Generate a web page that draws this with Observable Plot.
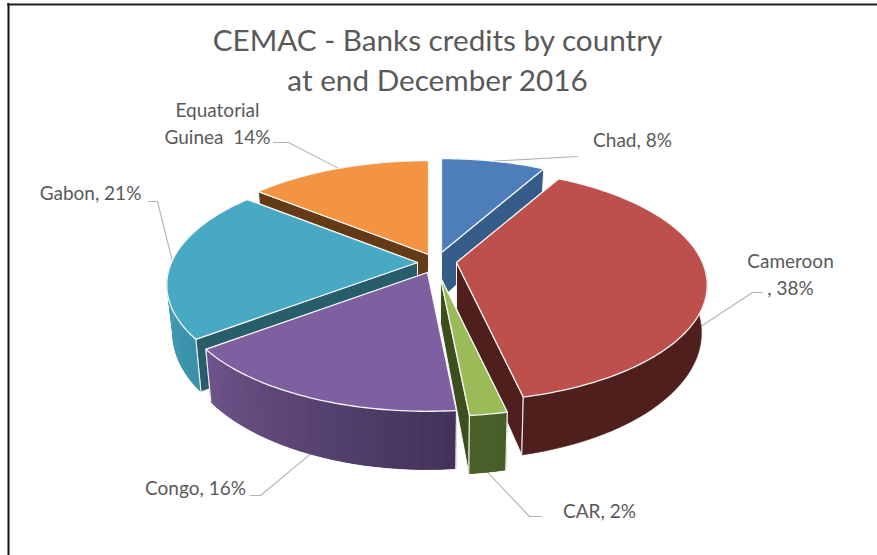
<!DOCTYPE html>
<html>
<head>
<meta charset="utf-8">
<script src="https://cdn.jsdelivr.net/npm/d3@7"></script>
<script src="https://cdn.jsdelivr.net/npm/@observablehq/plot@0.6"></script>
<style>
  html, body { margin: 0; padding: 0; background: #fff; }
  svg { display: block; }
</style>
</head>
<body>
<div id="chart"></div>
<script>
// Banks credits by country, share of the CEMAC total, clockwise from 12 o'clock
const countries = ["Chad", "Cameroon", "CAR", "Congo", "Gabon", "Equatorial Guinea"];
const shares = [8, 38, 2, 16, 21, 14];

const titleLines = ["CEMAC - Banks credits by country", "at end December 2016"];
const sliceLabels = ["Chad, 8%", "Cameroon\n, 38%", "CAR, 2%", "Congo, 16%", "Gabon, 21%", "Equatorial\nGuinea  14%"];

// Colours of each slice: top face, cut faces, outer wall at its first and last angle
const topColors = ["#4d7eba", "#bd4f4c", "#9bbb59", "#7e60a0", "#48a9c4", "#f39443"];
const cutColors = ["#365c8a", "#4f1f1e", "#3c4f1d", "#4a3760", "#285e6c", "#653a17"];
const wallFrom = ["#365c8a", "#4f1f1e", "#485e28", "#43335a", "#3c90a9", "#653a17"];
const wallTo = ["#365c8a", "#4f1f1e", "#4a6029", "#6d5389", "#45a2bc", "#653a17"];

// Pie geometry: perspective disc of a tilted cylinder, with each slice pulled off the hub
const hub = {x: 436, y: 264};
const disc = {rx: 246, ry: 112, persp: 0.193};
const lower = {sx: 0.977, sy: 1.088, drop: 46};
const pullX = [5, 20, 4, -9, -19, -8];
const pullY = [-12, -2, 13, 8, -2, -10];

// Where the labels sit and where their leader lines bend
const labelAt = [[632, 138], [790, 272], [599, 509], [195, 486], [90, 191], [217, 121]];
const bendAt = [[[577, 156]], [[752, 292], [762, 292]], [[529, 516], [541, 516]], [[260, 495], [250, 495]], [[157, 201], [148, 201]], [[288, 142], [273, 142]]];

const total = d3.sum(shares);
const tau = 2 * Math.PI;

function project(theta) {
  const u = Math.sin(theta), v = Math.cos(theta), w = 1 + disc.persp * v;
  return [disc.rx * u / w, -disc.ry * v / w];
}

// Slice angles and the screen position of each slice's apex
let running = 0;
const slices = shares.map((share, i) => {
  const a0 = (running / total) * tau;
  running += share;
  const a1 = (running / total) * tau;
  return {i, a0, a1, mid: (a0 + a1) / 2, apex: [hub.x + pullX[i], hub.y + pullY[i]]};
});

const topPoint = (s, t) => {
  const [dx, dy] = project(t);
  return [s.apex[0] + dx, s.apex[1] + dy];
};
const bottomPoint = (s, t) => {
  const [dx, dy] = project(t);
  return [s.apex[0] + dx * lower.sx, s.apex[1] + dy * lower.sy + lower.drop];
};
const apexBottom = s => [s.apex[0], s.apex[1] + lower.drop];

const angles = (a0, a1, step = 0.02) => {
  const n = Math.max(2, Math.ceil((a1 - a0) / step));
  return d3.range(n + 1).map(k => a0 + (a1 - a0) * k / n);
};

// Flat list of polygon vertices, one series per face, in drawing order
const rows = [];
let faceId = 0;
function addFace(points, fill, stroke, strokeWidth, closed = true) {
  const id = faceId++;
  const path = closed ? [...points, points[0]] : points;
  for (const [x, y] of path) rows.push({id, x, y, fill, stroke, strokeWidth});
}

function addWall(s) {
  // only the half of the rim that faces the viewer shows a wall
  const w0 = Math.max(s.a0, tau / 4), w1 = Math.min(s.a1, 3 * tau / 4);
  if (w1 <= w0) return;
  const shade = d3.interpolateRgb(wallFrom[s.i], wallTo[s.i]);
  const ts = angles(w0, w1, 0.04);
  const outline = [...ts.map(t => topPoint(s, t)), ...ts.slice().reverse().map(t => bottomPoint(s, t))];
  addFace(outline, shade(0.5), shade(0.5), 0.6);
  // overlapping strips carry the shading across the wall
  if (wallFrom[s.i] !== wallTo[s.i]) {
    ts.slice(0, -1).forEach((t, k) => {
      const end = ts[Math.min(k + 2, ts.length - 1)];
      const c = shade(k / (ts.length - 2));
      addFace([topPoint(s, t), topPoint(s, end), bottomPoint(s, end), bottomPoint(s, t)], c, "none", 0);
    });
  }
  if (s.a0 >= tau / 4) addFace([topPoint(s, s.a0), bottomPoint(s, s.a0)], "none", "#f6f6f6", 1.1, false);
  if (s.a1 <= 3 * tau / 4) addFace([topPoint(s, s.a1), bottomPoint(s, s.a1)], "none", "#f6f6f6", 1.1, false);
}

function addSlice(s) {
  const {i, a0, a1, apex} = s;
  // cut faces along the two radii, the one turned towards the viewer last
  const cuts = s.mid > tau / 2 ? [a1, a0] : [a0, a1];
  cuts.forEach(a => addFace([apex, topPoint(s, a), bottomPoint(s, a), apexBottom(s)], cutColors[i], "#f6f6f6", 1));
  addWall(s);
  // top face
  addFace([apex, ...angles(a0, a1).map(t => topPoint(s, t))], topColors[i], "#f6f6f6", 1.3);
}

// Back slices first so that nearer ones paint over them
const paintOrder = [0, 5, 4, 1, 3, 2];
paintOrder.forEach(i => addSlice(slices[i]));

// Leader lines start on the slice's mid angle: rim for back slices, wall foot for front ones
const leaders = slices.flatMap(s => {
  const front = Math.cos(s.mid) < 0;
  const start = front ? bottomPoint(s, s.mid) : topPoint(s, s.mid);
  return [start, ...bendAt[s.i]].map(([x, y]) => ({id: s.i, x, y}));
});

const labels = slices.map(s => ({text: sliceLabels[s.i], x: labelAt[s.i][0], y: labelAt[s.i][1]}));
const titles = titleLines.map((text, k) => ({text, x: 437, y: 41 + k * 40}));

const plot = Plot.plot({
  width: 877,
  height: 555,
  margin: 0,
  x: {domain: [0, 877], range: [0, 877], axis: null},
  y: {domain: [0, 555], range: [0, 555], axis: null},
  color: {type: "identity"},
  style: {background: "#fff", fontFamily: "Lato, 'Open Sans', sans-serif"},
  marks: [
    Plot.ruleX([8], {y1: 3, y2: 555, stroke: "#111", strokeWidth: 2}),
    Plot.ruleY([4], {x1: 7, x2: 877, stroke: "#222", strokeWidth: 2}),
    Plot.line(leaders, {x: "x", y: "y", z: "id", stroke: "#b3b3b3", strokeWidth: 1.1, curve: "linear"}),
    Plot.line(rows, {
      x: "x", y: "y", z: "id",
      fill: "fill", stroke: "stroke", strokeWidth: "strokeWidth",
      curve: "linear", strokeLinejoin: "round"
    }),
    Plot.text(titles, {x: "x", y: "y", text: "text", fill: "#595959", fontSize: 29.7, lineAnchor: "middle"}),
    Plot.text(labels, {x: "x", y: "y", text: "text", fill: "#595959", fontSize: 19, lineHeight: 1.42, lineAnchor: "middle"})
  ]
});
document.getElementById("chart").append(plot);
</script>
</body>
</html>
